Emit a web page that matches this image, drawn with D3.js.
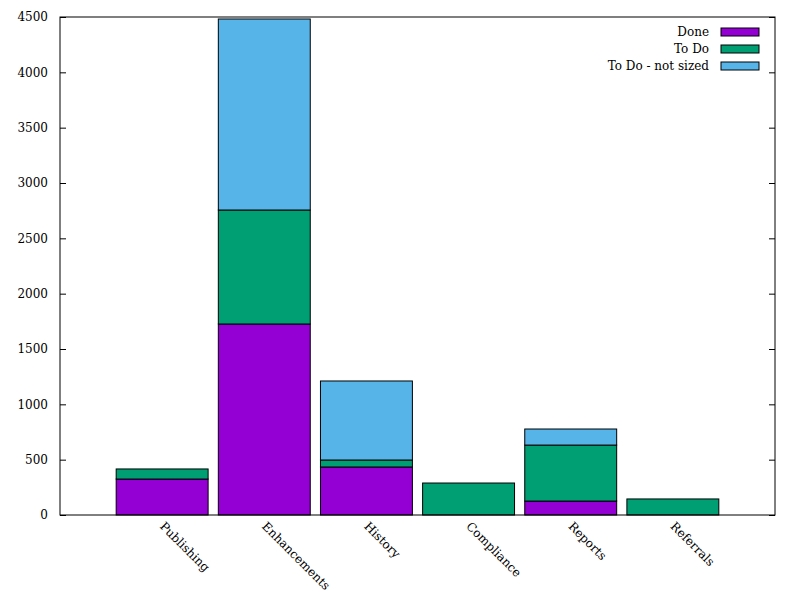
<!DOCTYPE html>
<html><head><meta charset="utf-8">
<script src="https://cdn.jsdelivr.net/npm/d3@7"></script>
<style>body{margin:0;background:#fff}text{font-family:"DejaVu Serif",serif;font-size:12px;fill:#000}</style>
</head><body><svg id="c" width="800" height="600"></svg>
<script>
const categories = ["Publishing","Enhancements","History","Compliance","Reports","Referrals"];
const seriesNames = ["Done","To Do","To Do - not sized"];
const done = [325, 1726, 434, 0, 126, 0];
const todo = [91, 1030, 63, 289, 506, 145];
const notSized = [0, 1726, 714, 0, 145, 0];
const yTicks = [0,500,1000,1500,2000,2500,3000,3500,4000,4500];
const colors = ["#9400d3","#009e73","#56b4e9"];

const svg = d3.select("#c");
const L=60,R=775,T=17,B=515;
const x = d3.scaleLinear().domain([-1,6]).range([L,R]);
const y = d3.scaleLinear().domain([0,4500]).range([B,T]);
const rows = categories.map((c,i)=>({cat:c,i,Done:done[i],"To Do":todo[i],"To Do - not sized":notSized[i]}));
const stack = d3.stack().keys(seriesNames)(rows);
const bw = 0.9;
stack.forEach((layer,k)=>{
  svg.append("g").selectAll("rect").data(layer.filter(d=>d[1]-d[0]>0)).join("rect")
    .attr("x",d=>x(d.data.i-bw/2)).attr("width",d=>x(d.data.i+bw/2)-x(d.data.i-bw/2))
    .attr("y",d=>y(d[1])).attr("height",d=>y(d[0])-y(d[1]))
    .attr("fill",colors[k]).attr("stroke","#000").attr("stroke-width",1);
});
// axes
const yl = svg.append("g").attr("transform",`translate(${L},0)`).call(d3.axisLeft(y).tickValues(yTicks).tickFormat(d3.format("d")).tickSize(-6).tickPadding(12));
const yr = svg.append("g").attr("transform",`translate(${R},0)`).call(d3.axisRight(y).tickValues(yTicks).tickSize(-6).tickFormat(""));
[yl,yr].forEach(g=>{g.attr("font-size",null).attr("font-family",null);g.select(".domain").remove();g.selectAll("line").attr("stroke","#000");g.selectAll("text").attr("fill","#000");});
svg.append("rect").attr("x",L).attr("y",T).attr("width",R-L).attr("height",B-T).attr("fill","none").attr("stroke","#000").attr("stroke-width",1);
// x labels
svg.append("g").selectAll("text").data(categories).join("text")
  .attr("transform",(d,i)=>`translate(${x(i)-3},${B+12}) rotate(45)`)
  .attr("text-anchor","start").text(d=>d);
// legend
const lg = svg.append("g");
seriesNames.forEach((n,k)=>{
  const yy = 32 + k*17;
  lg.append("text").attr("x",709).attr("y",yy+4).attr("text-anchor","end").text(n);
  lg.append("rect").attr("x",721).attr("y",yy-4).attr("width",38).attr("height",8).attr("fill",colors[k]).attr("stroke","#000");
});
</script></body></html>
